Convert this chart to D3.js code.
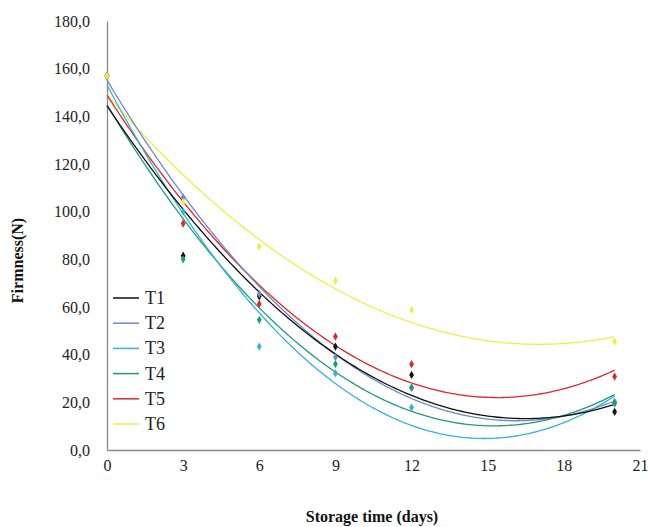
<!DOCTYPE html>
<html>
<head>
<meta charset="utf-8">
<script src="https://cdn.jsdelivr.net/npm/d3@7"></script>
<style>
body{margin:0;background:#fff;}
text{font-family:"Liberation Serif","Times New Roman",serif;}
</style>
</head>
<body>
<script>
var days = [0,3,6,9,12,20];
var seriesNames = ['T1','T2','T3','T4','T5','T6'];
var T1 = [157,81.5,64.5,43.4,31.5,16.0];
var T2 = [157,106,65.5,39.0,26.0,19.5];
var T3 = [157,100,43.4,32.2,17.8,20.3];
var T4 = [157,80,54.6,36.0,26.3,19.8];
var T5 = [157,95,61.3,47.6,36.0,30.8];
var T6 = [157,104,85.3,71.0,58.7,45.5];
var colors = ['#111111','#6f88c8','#33b4d6','#1e9e78','#e0262f','#f0ee45'];
var yTicks = [0,20,40,60,80,100,120,140,160,180];
var xTicks = [0,3,6,9,12,15,18,21];

var values = [T1,T2,T3,T4,T5,T6];
var width = 648, height = 527;
var margin = {left:107,right:8,top:21,bottom:77};

var svg = d3.select('body').append('svg').attr('width',width).attr('height',height);

var x = d3.scaleLinear().domain([0,21]).range([margin.left,width-margin.right]);
var y = d3.scaleLinear().domain([0,180]).range([height-margin.bottom,margin.top]);

var locale = d3.formatLocale({decimal:',',thousands:'.',grouping:[3],currency:['','']});
var fmt = locale.format('.1f');

// quadratic least squares trend (like the spreadsheet trendline)
function quadFit(xs,ys){
	var s=[0,0,0,0,0],t=[0,0,0];
	xs.forEach((xv,i)=>{
		for(var k=0;k<5;k++) s[k]+=Math.pow(xv,k);
		for(var k=0;k<3;k++) t[k]+=Math.pow(xv,k)*ys[i];
	});
	var A=[[s[0],s[1],s[2],t[0]],[s[1],s[2],s[3],t[1]],[s[2],s[3],s[4],t[2]]];
	for(var i=0;i<3;i++){
		for(var j=i+1;j<3;j++){
			var f=A[j][i]/A[i][i];
			for(var k=i;k<4;k++) A[j][k]-=f*A[i][k];
		}
	}
	var c=[0,0,0];
	for(var i=2;i>=0;i--){
		var v=A[i][3];
		for(var k=i+1;k<3;k++) v-=A[i][k]*c[k];
		c[i]=v/A[i][i];
	}
	return xv=>c[0]+c[1]*xv+c[2]*xv*xv;
}

// axes
var xAxis = svg.append('g').attr('transform',`translate(0,${y(0)})`)
	.call(d3.axisBottom(x).tickValues(xTicks).tickSize(0).tickPadding(10));
var yAxis = svg.append('g').attr('transform',`translate(${x(0)},0)`)
	.call(d3.axisLeft(y).tickValues(yTicks).tickFormat(fmt).tickSize(0).tickPadding(17));
[xAxis,yAxis].forEach(a=>{
	a.select('.domain').attr('stroke','#8a8a8a').attr('stroke-width',1.3);
	a.selectAll('text').attr('font-size',16).attr('fill','#222').style('font-family','"Liberation Serif",serif');
});

var grid = d3.range(0,20.001,0.1);
var line = d3.line().x(d=>x(d[0])).y(d=>y(d[1]));

var order = [5,4,3,2,1,0];
order.forEach(i=>{
	var f = quadFit(days,values[i]);
	svg.append('path')
		.attr('d',line(grid.map(g=>[g,f(g)])))
		.attr('fill','none')
		.attr('stroke',colors[i])
		.attr('stroke-width',1.3);
});

var sym = d3.symbol().type(d3.symbolDiamond).size(20);
values.forEach((vals,i)=>{
	svg.append('g').selectAll('path')
		.data(days.map((d,j)=>[d,vals[j]]))
		.enter().append('path')
			.attr('transform',d=>`translate(${x(d[0])},${y(d[1])})`)
			.attr('d',sym)
			.attr('fill',colors[i]);
});

// legend
var legend = svg.append('g').attr('transform','translate(113,298)');
seriesNames.forEach((name,i)=>{
	var g = legend.append('g').attr('transform',`translate(0,${i*25.2})`);
	g.append('line').attr('x1',0).attr('x2',26).attr('y1',0).attr('y2',0)
		.attr('stroke',colors[i]).attr('stroke-width',1.5);
	g.append('text').attr('x',32).attr('y',6).attr('font-size',18).attr('fill','#222').text(name);
});

// titles
svg.append('text')
	.attr('transform',`translate(23,${(y(0)+y(180))/2+25}) rotate(-90)`)
	.attr('text-anchor','middle').attr('font-size',16).attr('font-weight','bold').attr('fill','#111')
	.text('Firmness(N)');
svg.append('text')
	.attr('x',372).attr('y',522)
	.attr('text-anchor','middle').attr('font-size',16).attr('font-weight','bold').attr('fill','#111')
	.text('Storage time (days)');
</script>
</body>
</html>
